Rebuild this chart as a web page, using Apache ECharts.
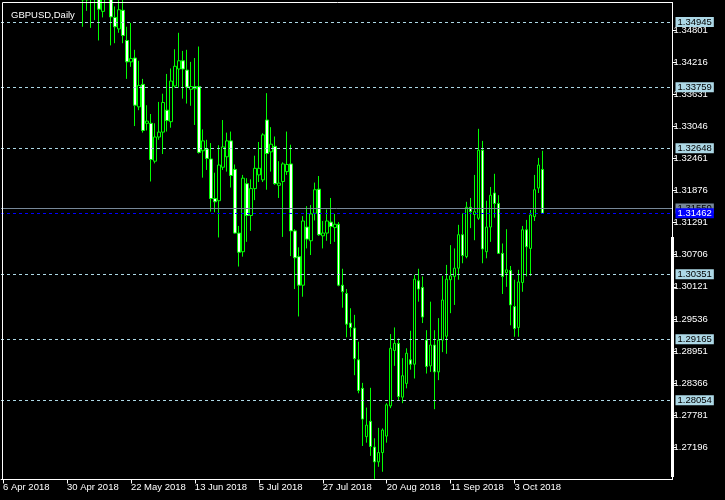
<!DOCTYPE html>
<html>
<head>
<meta charset="utf-8">
<script src="https://cdn.jsdelivr.net/npm/echarts@6/dist/echarts.min.js"></script>
<style>html,body{margin:0;padding:0;background:#000;}#c{width:725px;height:500px;}</style>
</head>
<body>
<div id="c"></div>
<script>
const dates = [
'2018-04-06','2018-04-09','2018-04-10','2018-04-11','2018-04-12','2018-04-13','2018-04-16','2018-04-17','2018-04-18','2018-04-19','2018-04-20','2018-04-23','2018-04-24','2018-04-25','2018-04-26','2018-04-27','2018-04-30',
'2018-05-01','2018-05-02','2018-05-03','2018-05-04','2018-05-07','2018-05-08','2018-05-09','2018-05-10','2018-05-11','2018-05-14','2018-05-15','2018-05-16','2018-05-17','2018-05-18','2018-05-21','2018-05-22','2018-05-23','2018-05-24','2018-05-25','2018-05-28','2018-05-29','2018-05-30','2018-05-31',
'2018-06-01','2018-06-04','2018-06-05','2018-06-06','2018-06-07','2018-06-08','2018-06-11','2018-06-12','2018-06-13','2018-06-14','2018-06-15','2018-06-18','2018-06-19','2018-06-20','2018-06-21','2018-06-22','2018-06-25','2018-06-26','2018-06-27','2018-06-28','2018-06-29',
'2018-07-02','2018-07-03','2018-07-04','2018-07-05','2018-07-06','2018-07-09','2018-07-10','2018-07-11','2018-07-12','2018-07-13','2018-07-16','2018-07-17','2018-07-18','2018-07-19','2018-07-20','2018-07-23','2018-07-24','2018-07-25','2018-07-26','2018-07-27','2018-07-30','2018-07-31',
'2018-08-01','2018-08-02','2018-08-03','2018-08-06','2018-08-07','2018-08-08','2018-08-09','2018-08-10','2018-08-13','2018-08-14','2018-08-15','2018-08-16','2018-08-17','2018-08-20','2018-08-21','2018-08-22','2018-08-23','2018-08-24','2018-08-27','2018-08-28','2018-08-29','2018-08-30','2018-08-31',
'2018-09-03','2018-09-04','2018-09-05','2018-09-06','2018-09-07','2018-09-10','2018-09-11','2018-09-12','2018-09-13','2018-09-14','2018-09-17','2018-09-18','2018-09-19','2018-09-20','2018-09-21','2018-09-24','2018-09-25','2018-09-26','2018-09-27','2018-09-28',
'2018-10-01','2018-10-02','2018-10-03','2018-10-04','2018-10-05','2018-10-08','2018-10-09','2018-10-10','2018-10-11','2018-10-12'
];
const open = [
1.4040,1.4090,1.4125,1.4160,1.4185,1.4240,1.4255,1.4340,1.4300,1.4190,1.4080,1.4010,1.3960,1.3980,1.3930,1.3925,1.3780,
1.3760,1.3615,1.3605,1.3590,1.3535,1.3545,1.3540,1.3565,1.3514,1.3545,1.3565,1.3503,1.3482,1.3516,1.3461,1.3422,1.3429,1.3340,1.3381,1.3310,1.3310,1.3241,1.3285,
1.3294,1.3334,1.3313,1.3378,1.3409,1.3424,1.3407,1.3372,1.3373,1.3377,1.3260,1.3263,1.3245,1.3173,1.3169,1.3230,1.3249,1.3278,1.3226,1.3110,1.3076,
1.3200,1.3142,1.3191,1.3216,1.3207,1.3316,1.3258,1.3268,1.3197,1.3204,1.3222,1.3236,1.3114,1.3067,1.3015,1.3121,1.3096,1.3146,1.3190,1.3105,1.3110,1.3130,
1.3120,1.3126,1.3015,1.3000,1.2946,1.2937,1.2879,1.2827,1.2739,1.2767,1.2720,1.2693,1.2710,1.2740,1.2795,1.2896,1.2909,1.2811,1.2836,1.2879,1.2871,1.3023,1.3011,
1.2915,1.2868,1.2906,1.2857,1.2915,1.2922,1.3025,1.3031,1.3046,1.3107,1.3067,1.3157,1.3144,1.3137,1.3261,1.3076,1.3121,1.3183,1.3164,1.3073,
1.3038,1.3042,1.2976,1.2938,1.3020,1.3116,1.3082,1.3140,1.3192,1.3226
];
const close = [
1.4090,1.4125,1.4160,1.4185,1.4240,1.4255,1.4340,1.4300,1.4190,1.4080,1.4010,1.3960,1.3980,1.3930,1.3925,1.3780,1.3760,
1.3615,1.3605,1.3590,1.3535,1.3545,1.3540,1.3565,1.3518,1.3545,1.3565,1.3504,1.3486,1.3517,1.3470,1.3422,1.3428,1.3343,1.3379,1.3297,1.3314,1.3244,1.3285,1.3294,
1.3348,1.3315,1.3387,1.3414,1.3424,1.3409,1.3376,1.3377,1.3377,1.3257,1.3278,1.3246,1.3173,1.3167,1.3234,1.3267,1.3278,1.3215,1.3110,1.3075,1.3210,
1.3142,1.3191,1.3228,1.3228,1.3289,1.3255,1.3272,1.3200,1.3201,1.3236,1.3235,1.3114,1.3065,1.3015,1.3132,1.3099,1.3145,1.3189,1.3107,1.3110,1.3132,1.3122,
1.3126,1.3015,1.3003,1.2944,1.2938,1.2881,1.2823,1.2771,1.2760,1.2721,1.2693,1.2710,1.2751,1.2797,1.2900,1.2909,1.2812,1.2850,1.2891,1.2871,1.3026,1.3008,1.2957,
1.2867,1.2906,1.2857,1.2915,1.2988,1.3026,1.3032,1.3046,1.3107,1.3069,1.3157,1.3149,1.3149,1.3261,1.3081,1.3121,1.3179,1.3164,1.3073,1.3031,
1.3043,1.2979,1.2936,1.3021,1.3116,1.3085,1.3143,1.3189,1.3234,1.31462
];
const low = [
1.3990,1.4075,1.4095,1.4130,1.4170,1.4225,1.4250,1.4270,1.4150,1.4050,1.4000,1.3920,1.3930,1.3920,1.3880,1.3750,1.3720,
1.3605,1.3580,1.3555,1.3486,1.3515,1.3484,1.3498,1.3461,1.3503,1.3535,1.3452,1.3456,1.3475,1.3456,1.3391,1.3413,1.3305,1.3334,1.3293,1.3297,1.3204,1.3237,1.3280,
1.3254,1.3295,1.3302,1.3375,1.3375,1.3355,1.3346,1.3342,1.3307,1.3255,1.3211,1.3225,1.3149,1.3148,1.3102,1.3225,1.3222,1.3193,1.3109,1.3049,1.3067,
1.3094,1.3114,1.3170,1.3203,1.3203,1.3189,1.3222,1.3198,1.3174,1.3103,1.3216,1.3068,1.3008,1.2958,1.2994,1.3082,1.3070,1.3133,1.3105,1.3082,1.3096,1.3090,
1.3094,1.3013,1.2974,1.2920,1.2921,1.2851,1.2818,1.2722,1.2728,1.2704,1.2662,1.2684,1.2675,1.2728,1.2791,1.2868,1.2806,1.2800,1.2827,1.2861,1.2845,1.2985,1.2946,
1.2854,1.2857,1.2789,1.2842,1.2893,1.2890,1.2964,1.2979,1.3025,1.3055,1.3064,1.3119,1.3097,1.3134,1.3055,1.3064,1.3094,1.3138,1.3072,1.2999,
1.3012,1.2942,1.2921,1.2921,1.3003,1.3031,1.3032,1.3132,1.3183,1.3146
];
const high = [
1.4100,1.4140,1.4190,1.4200,1.4245,1.4290,1.4350,1.4376,1.4310,1.4215,1.4090,1.4030,1.4000,1.3990,1.3970,1.3935,1.3790,
1.3770,1.3660,1.3620,1.3600,1.3575,1.3580,1.3600,1.3600,1.3570,1.3615,1.3575,1.3523,1.3540,1.3536,1.3486,1.3493,1.3444,1.3424,1.3391,1.3343,1.3327,1.3310,1.3349,
1.3364,1.3400,1.3410,1.3445,1.3475,1.3442,1.3444,1.3422,1.3429,1.3450,1.3299,1.3280,1.3274,1.3220,1.3270,1.3316,1.3293,1.3295,1.3235,1.3123,1.3216,
1.3210,1.3208,1.3251,1.3276,1.3292,1.3365,1.3303,1.3286,1.3241,1.3239,1.3295,1.3271,1.3117,1.3084,1.3141,1.3159,1.3161,1.3202,1.3214,1.3132,1.3153,1.3174,
1.3145,1.3130,1.3045,1.3008,1.2973,1.2961,1.2912,1.2837,1.2792,1.2828,1.2736,1.2755,1.2754,1.2800,1.2926,1.2938,1.2918,1.2882,1.2900,1.2932,1.3034,1.3045,1.3031,
1.2933,1.2985,1.2933,1.2955,1.3032,1.3052,1.3088,1.3082,1.3125,1.3146,1.3167,1.3174,1.3216,1.3300,1.3278,1.3169,1.3194,1.3218,1.3179,1.3091,
1.3117,1.3050,1.3025,1.3043,1.3123,1.3134,1.3152,1.3216,1.3247,1.3260
];
const priceTicks = [1.34801,1.34216,1.33631,1.33046,1.32461,1.31876,1.31291,1.30706,1.30121,1.29536,1.28951,1.28366,1.27781,1.27196];
const hLevels = [1.34945,1.33759,1.32648,1.30351,1.29165,1.28054];
const askLevel = 1.31550;
const bidLevel = 1.31462;
const tickIndex = [0,16,32,48,64,80,96,112,128];
const tickLabels = ['6 Apr 2018','30 Apr 2018','22 May 2018','13 Jun 2018','5 Jul 2018','27 Jul 2018','20 Aug 2018','11 Sep 2018','3 Oct 2018'];
const seriesName = 'GBPUSD,Daily';

const FONT = 'Liberation Sans';
const xCats = dates.concat(new Array(32).fill(''));
const candles = dates.map((d, i) => [open[i], close[i], low[i], high[i]]);
const isTick = (i) => tickIndex.indexOf(i) >= 0;

const lvlLabel = (bg, fg) => ({
  show: true, position: 'end', distance: 3,
  formatter: (p) => Number(p.value).toFixed(5),
  color: fg, backgroundColor: bg, padding: [1, 2, 0, 2],
  fontFamily: FONT, fontSize: 9.5, lineHeight: 9
});
const markData = hLevels.map(v => ({
  yAxis: v,
  lineStyle: {color: '#add8e6', type: [3, 3], width: 1},
  label: lvlLabel('#add8e6', '#000')
}));
markData.push({yAxis: askLevel, lineStyle: {color: '#778899', type: 'solid', width: 1}, label: lvlLabel('#778899', '#000')});
markData.push({yAxis: bidLevel, lineStyle: {color: '#0000ff', type: [3, 3], width: 1}, label: lvlLabel('#0000ff', '#fff')});

const chart = echarts.init(document.getElementById('c'), null, {renderer: 'canvas'});
chart.setOption({
  animation: false,
  backgroundColor: '#000',
  title: {
    text: seriesName, left: 6, top: 5,
    textStyle: {color: '#fff', fontSize: 9.5, fontWeight: 'normal', fontFamily: FONT}
  },
  grid: {left: 0.5, right: 52.5, top: 2.5, bottom: 20.5},
  xAxis: {
    type: 'category', data: xCats, boundaryGap: true,
    axisLine: {show: true, lineStyle: {color: '#fff', width: 1}},
    axisTick: {show: true, alignWithLabel: true, length: 4, interval: (i) => isTick(i), lineStyle: {color: '#fff'}},
    axisLabel: {
      show: true, interval: (i) => isTick(i), align: 'left', margin: 3,
      color: '#fff', fontFamily: FONT, fontSize: 9.5,
      formatter: (v, i) => tickLabels[tickIndex.indexOf(i)] || ''
    },
    splitLine: {show: false}
  },
  yAxis: {
    type: 'value', position: 'right', scale: true,
    min: 1.26609, max: 1.35302,
    axisLine: {show: true, lineStyle: {color: '#fff', width: 1}},
    axisTick: {show: true, length: 4, customValues: priceTicks, lineStyle: {color: '#fff'}},
    axisLabel: {
      show: true, customValues: priceTicks, margin: 1,
      color: '#fff', fontFamily: FONT, fontSize: 9.5,
      formatter: (v) => v.toFixed(5)
    },
    splitLine: {show: false}
  },
  graphic: [
    {type: 'rect', silent: true, z: 50, shape: {x: 2.5, y: 2.5, width: 670, height: 477}, style: {fill: null, stroke: '#fff', lineWidth: 1}},
    {type: 'rect', silent: true, z: 50, shape: {x: 671, y: 237, width: 3, height: 240}, style: {fill: '#fff'}}
  ],
  series: [{
    name: seriesName, type: 'candlestick', data: candles, barWidth: 3, clip: true,
    itemStyle: {color: '#000', color0: '#fff', borderColor: '#00ff00', borderColor0: '#00ff00', borderWidth: 1},
    markLine: {symbol: ['none', 'none'], silent: true, animation: false, precision: 5, data: markData}
  }]
});
</script>
</body>
</html>
